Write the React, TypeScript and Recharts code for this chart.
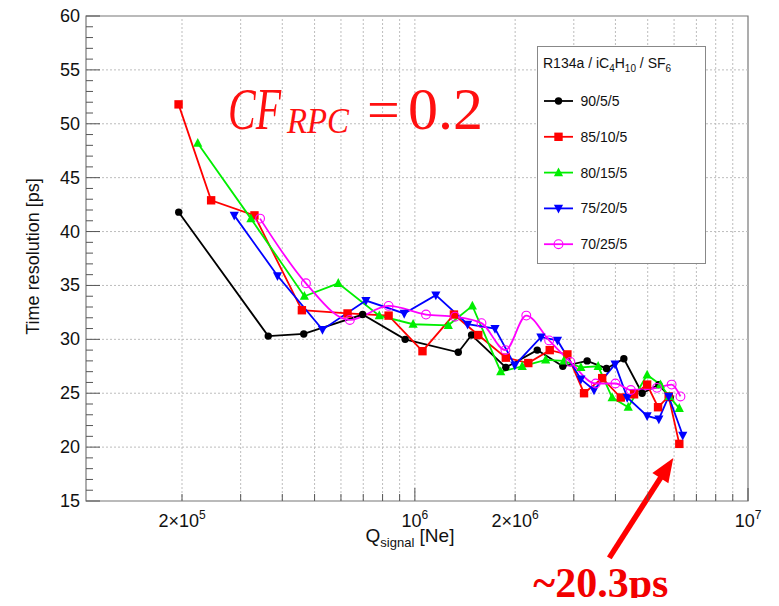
import React from "react";
import {
  ComposedChart,
  Line,
  XAxis,
  YAxis,
  ReferenceLine,
  ReferenceArea,
  ReferenceDot,
  Label,
} from "recharts";

// [Q_signal (Ne), time resolution (ps)] for each R134a / iC4H10 / SF6 mixture
const MIX_90_5_5: [number, number][] = [
  [1.955e5, 41.8], [3.63e5, 30.3], [4.64e5, 30.5], [6.97e5, 32.3],
  [9.35e5, 30.0], [1.35e6, 28.8], [1.48e6, 30.4], [1.875e6, 27.4],
  [2.33e6, 29.0], [2.78e6, 27.5], [3.29e6, 28.0], [3.76e6, 27.3],
  [4.24e6, 28.2], [4.81e6, 25.0], [5.4e6, 25.8], [5.84e6, 24.6],
];
const MIX_85_10_5: [number, number][] = [
  [1.953e5, 51.8], [2.446e5, 42.9], [3.3e5, 41.5], [4.58e5, 32.7],
  [6.28e5, 32.4], [8.34e5, 32.2], [1.054e6, 28.9], [1.31e6, 32.3],
  [1.55e6, 30.4], [1.875e6, 28.3], [2.19e6, 27.8], [2.54e6, 29.0],
  [2.87e6, 28.6], [3.22e6, 25.0], [3.65e6, 26.4], [4.15e6, 24.6],
  [4.55e6, 24.9], [4.98e6, 25.8], [5.37e6, 23.7], [5.78e6, 24.7],
  [6.22e6, 20.3],
];
const MIX_80_15_5: [number, number][] = [
  [2.23e5, 48.2], [3.22e5, 41.2], [4.66e5, 34.0], [5.89e5, 35.2],
  [7.82e5, 32.2], [9.88e5, 31.4], [1.26e6, 31.3], [1.488e6, 33.1],
  [1.81e6, 27.0], [2.1e6, 27.5], [2.47e6, 28.1], [2.8e6, 28.0],
  [3.15e6, 27.4], [3.55e6, 27.5], [3.91e6, 24.6], [4.37e6, 23.7],
  [4.98e6, 26.7], [5.46e6, 25.8], [5.8e6, 24.7], [6.22e6, 23.6],
];
const MIX_75_20_5: [number, number][] = [
  [2.87e5, 41.5], [3.87e5, 35.9], [5.28e5, 30.9], [7.13e5, 33.6],
  [9.29e5, 32.4], [1.156e6, 34.1], [1.44e6, 31.4], [1.74e6, 31.0],
  [1.995e6, 27.6], [2.39e6, 30.2], [2.68e6, 29.9], [3.15e6, 26.3],
  [3.45e6, 25.3], [3.99e6, 27.7], [4.34e6, 24.6], [4.98e6, 22.9],
  [5.4e6, 22.6], [5.78e6, 24.7], [6.37e6, 21.1],
];
const MIX_70_25_5: [number, number][] = [
  [3.43e5, 41.2], [4.71e5, 35.2], [6.38e5, 31.8], [8.34e5, 33.1],
  [1.08e6, 32.3], [1.32e6, 32.1], [1.585e6, 31.5], [1.87e6, 29.0],
  [2.16e6, 32.2], [2.53e6, 29.9], [2.93e6, 27.9], [3.49e6, 25.9],
  [4.0e6, 25.9], [4.45e6, 25.3], [5.33e6, 25.5], [5.9e6, 25.8],
  [6.27e6, 24.7],
];

type MarkerKind = "circle" | "square" | "up" | "down" | "open";

const SERIES: {
  name: string;
  color: string;
  marker: MarkerKind;
  smooth?: boolean;
  points: [number, number][];
}[] = [
  { name: "90/5/5", color: "#000000", marker: "circle", points: MIX_90_5_5 },
  { name: "85/10/5", color: "#ff0000", marker: "square", points: MIX_85_10_5 },
  { name: "80/15/5", color: "#00ee00", marker: "up", points: MIX_80_15_5 },
  { name: "75/20/5", color: "#0000ff", marker: "down", points: MIX_75_20_5 },
  { name: "70/25/5", color: "#ff00ff", marker: "open", smooth: true, points: MIX_70_25_5 },
];

const Q_DOMAIN: [number, number] = [1.03e5, 1e7];
const T_DOMAIN: [number, number] = [15, 60];

const Q_TICKS = [
  2e5, 3e5, 4e5, 5e5, 6e5, 7e5, 8e5, 9e5,
  1e6, 2e6, 3e6, 4e6, 5e6, 6e6, 7e6, 8e6, 9e6, 1e7,
];
const Q_LABELS = [
  { q: 2e5, mant: "2×", exp: "5" },
  { q: 1e6, mant: "", exp: "6" },
  { q: 2e6, mant: "2×", exp: "6" },
  { q: 1e7, mant: "", exp: "7" },
];
const T_LABELS = [15, 20, 25, 30, 35, 40, 45, 50, 55, 60];
const T_TICKS = Array.from({ length: 46 }, (_, i) => 15 + i);

const ANNOTATION = { q: 6.22e6, t: 20.3, text: "~20.3ps" };

const W = 779;
const H = 606;
const FONT = "'Liberation Sans', Arial, Helvetica, sans-serif";
const SERIF = "'Liberation Serif', 'Times New Roman', serif";
const GRID = "#bdbdbd";
const TICK = "#555";

function Marker({ cx, cy, kind, color }: { cx?: number; cy?: number; kind: MarkerKind; color: string }) {
  if (cx == null || cy == null) return null;
  switch (kind) {
    case "circle":
      return <circle cx={cx} cy={cy} r={3.7} fill={color} />;
    case "square":
      return <rect x={cx - 4.2} y={cy - 4.2} width={8.4} height={8.4} fill={color} />;
    case "up":
      return <polygon points={`${cx},${cy - 5.2} ${cx + 4.6},${cy + 3.6} ${cx - 4.6},${cy + 3.6}`} fill={color} />;
    case "down":
      return <polygon points={`${cx},${cy + 5.2} ${cx + 4.6},${cy - 3.6} ${cx - 4.6},${cy - 3.6}`} fill={color} />;
    default:
      return <circle cx={cx} cy={cy} r={4.4} fill="#fff" fillOpacity={0} stroke={color} strokeWidth={1.1} />;
  }
}

function QTickBottom(props: any) {
  const { x, y, payload } = props;
  const v = payload.value;
  const major = v === 1e6 || v === 1e7;
  const lab = Q_LABELS.find((l) => l.q === v);
  return (
    <g>
      <line x1={x} x2={x} y1={y} y2={y - (major ? 13 : 7)} stroke={TICK} />
      {lab && (
        <text x={x} y={y + 26} textAnchor="middle" fontFamily={FONT} fontSize={18} fill="#111">
          {lab.mant}10
          <tspan dy={-8} fontSize={12}>{lab.exp}</tspan>
        </text>
      )}
    </g>
  );
}

function QTickTop(props: any) {
  const { x, y, payload } = props;
  const major = payload.value === 1e6 || payload.value === 1e7;
  return <line x1={x} x2={x} y1={y} y2={y + (major ? 13 : 7)} stroke={TICK} />;
}

function TTick(props: any) {
  const { x, y, payload } = props;
  const v = payload.value;
  const major = T_LABELS.includes(v);
  return (
    <g>
      <line x1={x} x2={x + (major ? 14 : 7)} y1={y} y2={y} stroke={TICK} />
      {major && (
        <text x={x - 6} y={y + 6} textAnchor="end" fontFamily={FONT} fontSize={18} fill="#111">
          {v}
        </text>
      )}
    </g>
  );
}

function Annotation(props: any) {
  const { cx, cy } = props;
  if (cx == null || cy == null) return null;
  const tail = { x: cx - 70, y: cy + 114 };
  const tip = { x: cx - 6, y: cy + 14 };
  const dx = tip.x - tail.x;
  const dy = tip.y - tail.y;
  const len = Math.hypot(dx, dy);
  const ux = dx / len;
  const uy = dy / len;
  const headLen = 24;
  const half = 9.5;
  const bx = tip.x - ux * headLen;
  const by = tip.y - uy * headLen;
  return (
    <g>
      <line x1={tail.x} y1={tail.y} x2={bx + ux * 2} y2={by + uy * 2} stroke="#ff0000" strokeWidth={5.5} />
      <polygon
        points={`${tip.x},${tip.y} ${bx - uy * half},${by + ux * half} ${bx + uy * half},${by - ux * half}`}
        fill="#ff0000"
      />
      <text x={cx - 146} y={cy + 153} fontFamily={SERIF} fontWeight="bold" fontSize={42} fill="#f20000">
        {ANNOTATION.text}
      </text>
    </g>
  );
}

function MixLegend() {
  return (
    <svg width={170} height={219} style={{ position: "absolute", left: 537, top: 46 }}>
      <rect x={0.5} y={0.5} width={168} height={217} fill="#fff" stroke="#888" />
      <text x={6} y={22} fontFamily={FONT} fontSize={14} fill="#111">
        R134a / iC<tspan dy={4} fontSize={10}>4</tspan>
        <tspan dy={-4}>H</tspan>
        <tspan dy={4} fontSize={10}>10</tspan>
        <tspan dy={-4}> / SF</tspan>
        <tspan dy={4} fontSize={10}>6</tspan>
      </text>
      {SERIES.map((s, i) => {
        const cy = 55 + i * 35.8;
        return (
          <g key={s.name}>
            <line x1={7} x2={36} y1={cy} y2={cy} stroke={s.color} strokeWidth={1.8} />
            <Marker cx={21.5} cy={cy} kind={s.marker} color={s.color} />
            <text x={43.5} y={cy + 5} fontFamily={FONT} fontSize={14} fill="#111">
              {s.name}
            </text>
          </g>
        );
      })}
    </svg>
  );
}

function CfLabel() {
  return (
    <svg
      width={W}
      height={H}
      style={{ position: "absolute", left: 0, top: 0, pointerEvents: "none" }}
    >
      <text y={129} fill="#ff1010" fontFamily={SERIF}>
        <tspan x={228} fontSize={60} fontStyle="italic" textLength={53} lengthAdjust="spacingAndGlyphs">
          CF
        </tspan>
        <tspan x={287} dy={4} fontSize={36} fontStyle="italic" textLength={62} lengthAdjust="spacingAndGlyphs">
          RPC
        </tspan>
        <tspan x={367} dy={-4} fontSize={58}>
          =
        </tspan>
        <tspan x={408} fontSize={60}>
          0.2
        </tspan>
      </text>
    </svg>
  );
}

export default function App() {
  return (
    <div style={{ position: "relative", width: W, height: H, margin: -8, fontFamily: FONT }}>
      <ComposedChart width={W} height={H} margin={{ top: 16, right: 31, bottom: 60, left: 8 }}>
        <XAxis
          xAxisId="q"
          dataKey="q"
          type="number"
          scale="log"
          domain={Q_DOMAIN}
          allowDataOverflow
          ticks={Q_TICKS}
          interval={0}
          height={45}
          tickSize={0}
          tickMargin={0}
          tickLine={false}
          axisLine={false}
          tick={<QTickBottom />}
        >
          <Label
            content={(p: any) => {
              const vb = p.viewBox;
              return (
                <text
                  x={vb.x + vb.width / 2 - 7}
                  y={vb.y + 41}
                  textAnchor="middle"
                  fontFamily={FONT}
                  fontSize={19}
                  fill="#111"
                >
                  Q<tspan dy={5} fontSize={13}>signal</tspan>
                  <tspan dy={-5}> [Ne]</tspan>
                </text>
              );
            }}
          />
        </XAxis>
        <XAxis
          xAxisId="qTop"
          orientation="top"
          type="number"
          scale="log"
          domain={Q_DOMAIN}
          allowDataOverflow
          ticks={Q_TICKS}
          interval={0}
          height={0}
          tickSize={0}
          tickMargin={0}
          tickLine={false}
          axisLine={false}
          tick={<QTickTop />}
        />
        <YAxis
          yAxisId="t"
          type="number"
          domain={T_DOMAIN}
          allowDataOverflow
          ticks={T_TICKS}
          interval={0}
          width={78}
          tickSize={0}
          tickMargin={0}
          tickLine={false}
          axisLine={false}
          tick={<TTick />}
        >
          <Label
            content={(p: any) => {
              const vb = p.viewBox;
              const cx = vb.x + 25;
              const cy = vb.y + vb.height / 2 - 2;
              return (
                <text
                  x={cx}
                  y={cy}
                  transform={`rotate(-90 ${cx} ${cy})`}
                  textAnchor="middle"
                  dominantBaseline="central"
                  fontFamily={FONT}
                  fontSize={18}
                  fill="#111"
                >
                  Time resolution [ps]
                </text>
              );
            }}
          />
        </YAxis>

        {Q_TICKS.filter((q) => q < Q_DOMAIN[1]).map((q) => (
          <ReferenceLine
            key={`gx${q}`}
            xAxisId="q"
            yAxisId="t"
            x={q}
            stroke={GRID}
            strokeDasharray="2 2"
          />
        ))}
        {T_LABELS.filter((t) => t > T_DOMAIN[0] && t < T_DOMAIN[1]).map((t) => (
          <ReferenceLine
            key={`gy${t}`}
            xAxisId="q"
            yAxisId="t"
            y={t}
            stroke={GRID}
            strokeDasharray="2 2"
          />
        ))}
        <ReferenceArea
          xAxisId="q"
          yAxisId="t"
          x1={Q_DOMAIN[0]}
          x2={Q_DOMAIN[1]}
          y1={T_DOMAIN[0]}
          y2={T_DOMAIN[1]}
          fill="none"
          fillOpacity={0}
          stroke="#777"
          strokeWidth={1.2}
        />

        {SERIES.map((s) => (
          <Line
            key={s.name}
            xAxisId="q"
            yAxisId="t"
            name={s.name}
            data={s.points.map(([q, t]) => ({ q, t }))}
            dataKey="t"
            type={s.smooth ? "monotone" : "linear"}
            stroke={s.color}
            strokeWidth={1.8}
            isAnimationActive={false}
            activeDot={false}
            dot={(p: any) => (
              <Marker key={`${s.name}-${p.index}`} cx={p.cx} cy={p.cy} kind={s.marker} color={s.color} />
            )}
          />
        ))}

        <ReferenceDot
          xAxisId="q"
          yAxisId="t"
          x={ANNOTATION.q}
          y={ANNOTATION.t}
          r={0}
          shape={(p: any) => <Annotation {...p} />}
        />
      </ComposedChart>
      <CfLabel />
      <MixLegend />
    </div>
  );
}
